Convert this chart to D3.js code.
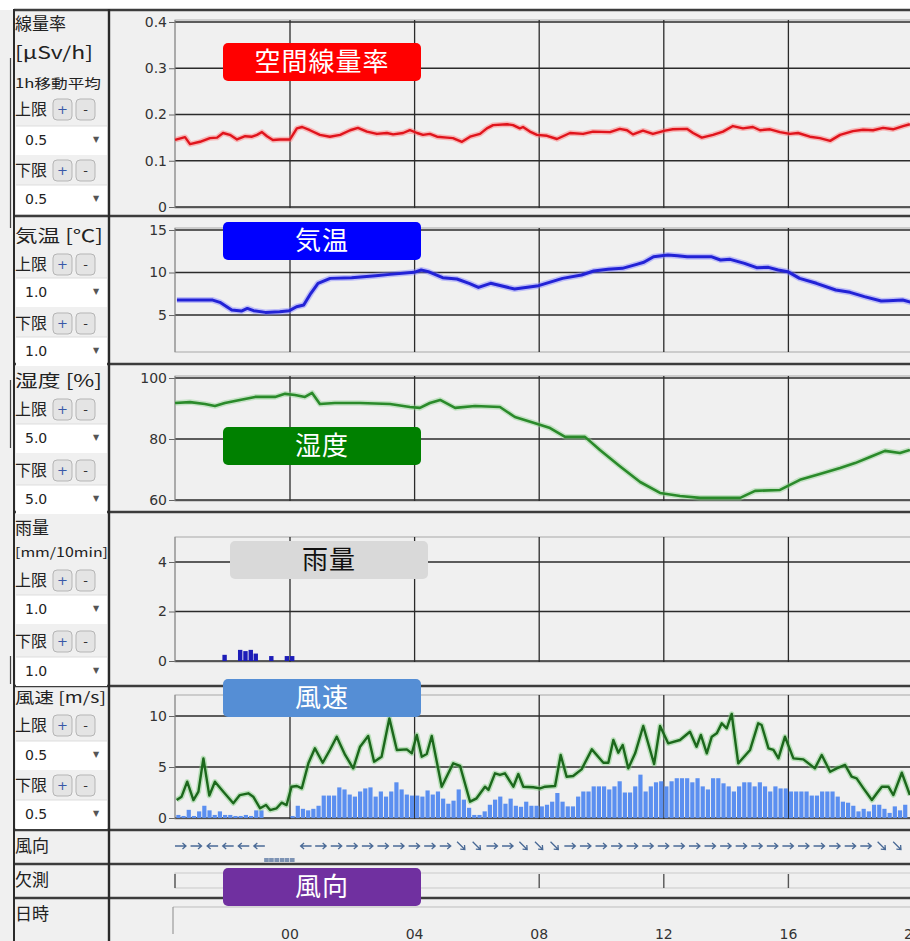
<!DOCTYPE html>
<html>
<head>
<meta charset="utf-8">
<script src="https://cdn.jsdelivr.net/npm/d3@7"></script>
<style>
  body { margin: 0; background: #fff; }
  svg text { font-family: "DejaVu Sans", sans-serif; }
  svg .jp { font-family: "Noto Sans CJK JP", sans-serif; }
</style>
</head>
<body>
<div id="chart"></div>
<script>
// hours from 00:00 (negative = previous evening)
var hourTicks = [0, 4, 8, 12, 16, 20];
var hourLabels = ["00", "04", "08", "12", "16", "20"];

// 空間線量率 [µSv/h] (1h moving average)
var doseRate = [[-3.69,.145],[-3.37,.151],[-3.21,.136],[-2.89,.141],[-2.57,.149],[-2.34,.150],[-2.15,.160],[-1.93,.156],
  [-1.70,.146],[-1.44,.153],[-1.22,.152],[-1.06,.156],[-0.90,.162],[-0.74,.153],[-0.55,.145],[-0.32,.146],
  [0,.146],[0.22,.170],[0.39,.173],[0.64,.166],[0.96,.156],[1.28,.152],[1.61,.156],[1.93,.166],[2.18,.171],[2.47,.163],
  [2.79,.158],[3.11,.160],[3.31,.157],[3.63,.160],[3.85,.166],[4.08,.160],[4.27,.156],[4.49,.158],[4.72,.152],[5.04,.150],
  [5.23,.149],[5.52,.141],[5.78,.152],[6.10,.158],[6.32,.170],[6.52,.177],[6.97,.179],[7.16,.177],[7.38,.170],[7.48,.173],
  [7.70,.163],[7.93,.156],[8.25,.154],[8.57,.147],[8.99,.160],[9.41,.158],[9.73,.163],[10.27,.162],[10.59,.169],[10.82,.166],
  [11.01,.157],[11.33,.165],[11.65,.158],[12.04,.165],[12.29,.168],[12.74,.169],[12.94,.160],[13.22,.150],[13.58,.156],
  [13.90,.163],[14.22,.175],[14.54,.170],[14.86,.173],[15.09,.166],[15.41,.168],[15.73,.162],[16.05,.158],[16.31,.160],
  [16.69,.152],[17.01,.149],[17.34,.143],[17.66,.156],[18.07,.164],[18.40,.167],[18.72,.166],[19.04,.171],[19.36,.168],
  [19.68,.175],[19.90,.179]];

// 気温 [℃]
var temperature = [[-3.63,6.76],[-2.48,6.76],[-2.25,6.49],[-1.87,5.59],[-1.56,5.47],[-1.37,5.78],[-1.17,5.51],[-0.79,5.31],
  [-0.33,5.39],[-0.02,5.51],[0.21,5.98],[0.44,6.18],[0.67,7.55],[0.90,8.73],[1.29,9.31],[1.98,9.39],[2.75,9.63],[3.21,9.78],
  [3.98,10.02],[4.21,10.29],[4.44,10.10],[4.90,9.39],[5.36,9.24],[5.75,8.73],[6.05,8.25],[6.44,8.73],[7.21,8.06],[7.98,8.45],
  [8.75,9.31],[9.36,9.71],[9.75,10.18],[10.21,10.37],[10.67,10.49],[11.13,10.96],[11.36,11.20],[11.67,11.86],[12.13,12.06],
  [12.44,11.98],[12.75,11.86],[13.52,11.86],[13.82,11.47],[14.13,11.55],[14.59,11.08],[14.98,10.57],[15.36,10.61],
  [15.67,10.29],[15.98,10.10],[16.36,9.31],[16.90,8.73],[17.52,7.94],[17.98,7.67],[18.44,7.16],[18.98,6.65],[19.21,6.69],
  [19.67,6.76],[19.94,6.49]];

// 湿度 [%]
var humidity = [[-3.69,91.8],[-3.21,92.1],[-2.73,91.5],[-2.41,90.8],[-2.09,91.8],[-1.61,92.8],[-1.12,93.8],[-0.48,93.8],
  [-0.16,94.8],[0.16,94.4],[0.48,93.8],[0.71,95.1],[0.96,91.5],[1.44,91.8],[2.25,91.8],[3.21,91.5],[3.85,90.5],[4.17,90.2],
  [4.49,91.8],[4.82,92.8],[5.30,90.2],[5.94,90.8],[6.74,90.5],[7.22,87.2],[7.87,85.2],[8.35,83.6],[8.83,80.7],[9.47,80.7],
  [9.95,76.4],[10.59,71.1],[11.24,65.9],[11.88,62.3],[12.52,61.3],[13.16,60.7],[13.96,60.7],[14.45,60.7],[14.93,63.0],
  [15.73,63.3],[16.37,66.6],[17.01,68.5],[17.66,70.5],[18.14,72.1],[18.62,74.1],[19.10,76.1],[19.58,75.4],[19.90,76.4]];

// 雨量 [mm/10min], slot start hour
var rainfall = [[-2.17,0.25],[-1.67,0.45],[-1.50,0.40],[-1.33,0.45],[-1.17,0.30],[-0.67,0.20],[-0.17,0.20],[0,0.20]];

// 風速 [m/s]: 10-min mean bars from 20:20, and max gust line
var windStart = -22 / 6;
var windMean = [0.3,0.2,0.8,0.2,0.65,1.2,0.75,0.3,0.65,0.3,0.3,0.2,0.2,0.3,0.2,0.75,0.75,0,0,0,0,0,0.2,1.2,0.9,0.75,0.9,1.2,
  2.2,2.2,2.2,3.0,2.8,2.3,2.1,2.6,2.9,3.0,2.1,2.6,2.1,2.6,3.5,2.8,2.3,2.2,2.2,2.1,2.7,2.3,2.6,1.9,1.4,1.7,2.8,1.8,1.0,0.3,
  0.3,0.65,1.3,1.8,2.1,1.4,1.9,1.2,1.1,1.6,1.2,1.2,
  1.14,1.3,1.6,2.45,1.6,1.14,1.14,2.1,2.6,2.6,3.1,3.1,3.1,2.8,3.1,3.6,2.5,2.5,3.1,4.25,2.6,3.1,3.5,3.6,3.1,3.6,3.9,3.9,
  3.9,3.5,3.9,3.1,2.8,3.9,3.9,3.4,3.1,2.6,3.1,3.5,3.5,3.1,3.5,3.1,2.6,3.1,2.9,2.9,2.6,2.6,2.6,2.6,2.2,2.2,2.6,2.6,2.6,2.1,
  1.6,1.5,1.2,0.65,0.9,0.65,1.3,1.3,0.9,0.5,1.14,0.75,1.3];
var windGust = [[-3.64,1.76],[-3.48,2.09],[-3.30,3.56],[-3.10,1.76],[-2.94,2.58],[-2.78,5.85],[-2.59,2.19],[-2.41,3.56],
  [-2.14,2.58],[-1.82,1.44],[-1.61,2.25],[-1.34,2.42],[-1.18,2.09],[-0.96,0.95],[-0.77,1.27],[-0.64,0.78],[-0.43,0.95],
  [-0.27,1.50],[-0.11,1.27],[0.05,3.07],[0.22,3.14],[0.38,2.91],[0.59,5.36],[0.80,6.83],[1.05,5.42],[1.28,6.67],[1.50,7.97],
  [1.77,6.18],[2.03,4.87],[2.25,6.99],[2.51,8.04],[2.70,5.52],[2.94,6.01],[3.19,9.77],[3.43,6.67],[3.75,6.73],[3.91,6.34],
  [4.07,8.14],[4.23,6.01],[4.39,6.27],[4.55,8.04],[4.87,3.07],[5.24,5.36],[5.46,5.10],[5.78,1.60],[5.99,1.93],[6.26,3.07],
  [6.37,2.75],[6.58,4.38],[6.74,4.22],[6.90,4.38],[7.17,3.07],[7.33,4.31],[7.49,3.07],[7.81,3.01],[8.03,2.91],[8.19,3.07],
  [8.51,3.14],[8.69,6.18],[8.88,4.05],[9.09,4.12],[9.36,4.77],[9.69,6.73],[10.06,5.42],[10.22,5.42],[10.38,7.65],[10.54,6.40],
  [10.68,7.16],[10.86,4.87],[11.08,6.34],[11.34,9.02],[11.69,5.29],[11.88,9.02],[12.14,7.32],[12.52,7.65],[12.84,8.46],
  [13.05,6.99],[13.19,8.14],[13.38,6.34],[13.54,7.97],[13.70,8.30],[13.86,9.28],[14.02,8.79],[14.18,10.20],[14.39,5.36],
  [14.77,6.67],[15.03,9.28],[15.14,9.12],[15.36,6.83],[15.52,6.67],[15.68,5.85],[15.89,7.97],[16.16,5.85],[16.48,5.75],
  [16.85,4.87],[17.07,6.18],[17.34,4.54],[17.55,4.87],[17.82,5.20],[18.03,4.05],[18.19,3.89],[18.41,2.91],[18.68,1.76],
  [18.84,2.42],[19.00,3.07],[19.21,3.07],[19.37,2.25],[19.64,4.44],[19.90,2.25]];

// 風向 (direction the wind comes from), every 30 min
var windDir = [[-3.5,"W"],[-3,"W"],[-2.5,"E"],[-2,"E"],[-1.5,"E"],[-1,"E"],
  [0.5,"E"],[1,"W"],[1.5,"W"],[2,"W"],[2.5,"W"],[3,"W"],[3.5,"W"],[4,"W"],[4.5,"W"],[5,"W"],[5.5,"NW"],[6,"NW"],
  [6.5,"W"],[7,"W"],[7.5,"NW"],[8,"NW"],[8.5,"NW"],[9,"W"],[9.5,"W"],[10,"W"],[10.5,"W"],[11,"W"],[11.5,"W"],
  [12,"W"],[12.5,"W"],[13,"W"],[13.5,"W"],[14,"W"],[14.5,"W"],[15,"W"],[15.5,"W"],[16,"W"],[16.5,"W"],[17,"W"],[17.5,"W"],
  [18,"W"],[18.5,"W"],[19,"NW"],[19.5,"NW"]];
var dirMissing = [-0.83, -0.67, -0.5, -0.33, -0.17, 0];

// badge labels
var badgeText = ["空間線量率", "気温", "湿度", "雨量", "風速", "風向"];
var badgeFill = ["#ff0000", "#0000ff", "#008000", "#d9d9d9", "#558ed5", "#7030a0"];
var badgeInk  = ["#fff", "#fff", "#fff", "#111", "#fff", "#fff"];

var W = 910, H = 941;
var svg = d3.select("#chart").append("svg").attr("width", W).attr("height", H);

svg.append("rect").attr("x", 0).attr("y", 10).attr("width", W).attr("height", H - 10).attr("fill", "#f0f0f0");

var x = d3.scaleLinear().domain([0, 20]).range([290, 913]);
var x0 = 175, x1 = 925;

// panel layout
var panels = [
  {top: 20,  bottom: 208, range: [207, 22],  domain: [0, 0.4],   ticks: [0, 0.1, 0.2, 0.3, 0.4], fmt: function(d) { return d === 0 ? "0" : d3.format(".1f")(d); }},
  {top: 228, bottom: 352, range: [352, 230], domain: [0.65, 15], ticks: [5, 10, 15], fmt: d3.format("d")},
  {top: 376, bottom: 501, range: [500, 378], domain: [60, 100],  ticks: [60, 80, 100], fmt: d3.format("d")},
  {top: 537, bottom: 662, range: [661, 537.25], domain: [0, 5], ticks: [0, 2, 4], fmt: d3.format("d")},
  {top: 695, bottom: 819, range: [818, 695], domain: [0, 12.06], ticks: [0, 5, 10], fmt: d3.format("d")}
];

panels.forEach(function(p) {
  p.y = d3.scaleLinear().domain(p.domain).range(p.range);
  var g = svg.append("g");
  g.append("rect").attr("x", x0).attr("y", p.top).attr("width", x1 - x0).attr("height", p.bottom - p.top)
    .attr("fill", "#f0f0f0").attr("stroke", "#a8a8a8");
  g.selectAll(".hg").data(p.ticks).enter().append("line")
    .attr("x1", x0).attr("x2", x1).attr("y1", p.y).attr("y2", p.y)
    .attr("stroke", "#2b2b2b").attr("stroke-width", 1.3);
  g.selectAll(".vg").data(hourTicks).enter().append("line")
    .attr("x1", x).attr("x2", x).attr("y1", p.top).attr("y2", p.bottom)
    .attr("stroke", "#2b2b2b").attr("stroke-width", 1.3);
  var ax = g.append("g").attr("transform", "translate(" + x0 + ",0)")
    .call(d3.axisLeft(p.y).tickValues(p.ticks).tickSize(6).tickPadding(2).tickFormat(p.fmt));
  ax.select(".domain").remove();
  ax.selectAll("line").attr("stroke", "#666");
  ax.selectAll("text").attr("fill", "#333").style("font-size", "14px").style("font-family", "DejaVu Sans");
  g.append("line").attr("x1", x0).attr("x2", x0).attr("y1", p.top).attr("y2", p.bottom).attr("stroke", "#888");
});

function drawLine(data, y, color, width, halo) {
  var line = d3.line().x(function(d) { return x(d[0]); }).y(function(d) { return y(d[1]); });
  if (halo) {
    svg.append("path").datum(data).attr("d", line).attr("fill", "none")
      .attr("stroke", halo).attr("stroke-width", width + 3).attr("stroke-opacity", 0.45).attr("stroke-linejoin", "round");
  }
  svg.append("path").datum(data).attr("d", line).attr("fill", "none")
    .attr("stroke", color).attr("stroke-width", width).attr("stroke-linejoin", "round");
}

drawLine(doseRate, panels[0].y, "#e0141c", 2.4, "#ff7070");
drawLine(temperature, panels[1].y, "#2222d6", 3, "#8080ff");
drawLine(humidity, panels[2].y, "#2a8a2a", 2.6, "#90d090");

// rain bars
var slot = 1 / 6;
svg.selectAll(".rain").data(rainfall).enter().append("rect")
  .attr("x", function(d) { return x(d[0]); })
  .attr("width", x(slot) - x(0) - 0.8)
  .attr("y", function(d) { return panels[3].y(d[1]); })
  .attr("height", function(d) { return panels[3].y(0) - panels[3].y(d[1]); })
  .attr("fill", "#1d1db8");

// wind mean bars then gust line
svg.selectAll(".wbar").data(windMean).enter().append("rect")
  .attr("x", function(d, i) { return x(windStart + i * slot) + 0.5; })
  .attr("width", x(slot) - x(0) - 1)
  .attr("y", function(d) { return panels[4].y(d); })
  .attr("height", function(d) { return panels[4].y(0) - panels[4].y(d); })
  .attr("fill", "#5b8ff0");
drawLine(windGust, panels[4].y, "#1c681c", 2.4, "#7acb7a");

// wind direction row
var dirAngle = {"W": 0, "NW": 45, "N": 90, "E": 180, "SW": -45};
svg.selectAll(".arrow").data(windDir).enter().append("path")
  .attr("transform", function(d) { return "translate(" + x(d[0]) + ",846) rotate(" + dirAngle[d[1]] + ")"; })
  .attr("d", "M-6,0 L5,0 M1.5,-3 L5,0 L1.5,3")
  .attr("fill", "none").attr("stroke", "#4a6a96").attr("stroke-width", 1.3);
svg.selectAll(".miss").data(dirMissing).enter().append("rect")
  .attr("x", function(d) { return x(d); }).attr("y", 858)
  .attr("width", x(slot) - x(0) - 0.6).attr("height", 4)
  .attr("fill", "#7d93b4");

// 欠測 row
svg.append("rect").attr("x", x0).attr("y", 873).attr("width", x1 - x0).attr("height", 15)
  .attr("fill", "none").attr("stroke", "#c9c9c9");
svg.selectAll(".mt").data([x0].concat(hourTicks.map(x))).enter().append("line")
  .attr("x1", function(d) { return d; }).attr("x2", function(d) { return d; })
  .attr("y1", 874).attr("y2", 888).attr("stroke", "#555").attr("stroke-width", 1.4);

// 日時 axis
svg.append("line").attr("x1", 173).attr("x2", x1).attr("y1", 907).attr("y2", 907).attr("stroke", "#bdbdbd");
svg.append("line").attr("x1", 173).attr("x2", 173).attr("y1", 907).attr("y2", 934).attr("stroke", "#8a8a8a");
svg.selectAll(".hl").data(hourTicks).enter().append("text")
  .attr("x", x).attr("y", 939).attr("text-anchor", "middle")
  .attr("fill", "#333").style("font-size", "14px")
  .text(function(d, i) { return hourLabels[i]; });

// row separators and frame
var seps = [10, 216, 364, 512, 686, 830, 864, 898];
svg.selectAll(".sep").data(seps).enter().append("line")
  .attr("x1", 14).attr("x2", W).attr("y1", function(d) { return d; }).attr("y2", function(d) { return d; })
  .attr("stroke", "#3c3c3c").attr("stroke-width", 2.6);
svg.append("line").attr("x1", 14).attr("x2", 14).attr("y1", 9).attr("y2", H).attr("stroke", "#2a2a2a").attr("stroke-width", 2);
svg.append("line").attr("x1", 109).attr("x2", 109).attr("y1", 9).attr("y2", H).attr("stroke", "#2a2a2a").attr("stroke-width", 2.4);
[[58, 228], [380, 448], [656, 684]].forEach(function(s) {
  svg.append("line").attr("x1", 10.5).attr("x2", 10.5).attr("y1", s[0]).attr("y2", s[1]).attr("stroke", "#444").attr("stroke-width", 1.2);
});

// left control column
function label(txt, y, size, width) {
  var t = svg.append("text").attr("class", "jp").attr("x", 15).attr("y", y).attr("dy", "0.36em")
    .attr("fill", "#222").style("font-size", size + "px").text(txt);
  if (width) t.attr("textLength", width).attr("lengthAdjust", "spacingAndGlyphs");
}
function limitRow(txt, y) {
  label(txt, y, 16);
  [["+", 53, "#3858a8"], ["-", 76, "#333"]].forEach(function(b) {
    svg.append("rect").attr("x", b[1]).attr("y", y - 10).attr("width", 19).attr("height", 21).attr("rx", 4)
      .attr("fill", "#e4e4e4").attr("stroke", "#b5b5b5");
    svg.append("text").attr("x", b[1] + 9.5).attr("y", y).attr("dy", "0.38em").attr("text-anchor", "middle")
      .attr("fill", b[2]).style("font-size", "13px").text(b[0]);
  });
}
function dropdown(val, y) {
  svg.append("rect").attr("x", 16).attr("y", y - 14).attr("width", 91).attr("height", 29).attr("fill", "#fff");
  svg.append("line").attr("x1", 16).attr("x2", 107).attr("y1", y - 14).attr("y2", y - 14).attr("stroke", "#ddd");
  svg.append("text").attr("x", 25).attr("y", y).attr("dy", "0.36em").attr("fill", "#222").style("font-size", "14px").text(val);
  svg.append("text").attr("x", 96).attr("y", y).attr("dy", "0.3em").attr("text-anchor", "middle")
    .attr("fill", "#555").style("font-size", "8px").text("▼");
}

label("線量率", 24, 17); label("[μSv/h]", 53, 17, 78); label("1h移動平均", 83, 13, 86);
limitRow("上限", 109); dropdown("0.5", 140); limitRow("下限", 170); dropdown("0.5", 199);
label("気温 [℃]", 236, 17, 88);
limitRow("上限", 264); dropdown("1.0", 292); limitRow("下限", 323); dropdown("1.0", 351);
label("湿度 [%]", 381, 17, 87);
limitRow("上限", 409); dropdown("5.0", 438); limitRow("下限", 470); dropdown("5.0", 499);
label("雨量", 528, 17); label("[mm/10min]", 552, 13, 93);
limitRow("上限", 580); dropdown("1.0", 609); limitRow("下限", 641); dropdown("1.0", 671);
label("風速 [m/s]", 698, 15, 91);
limitRow("上限", 725); dropdown("0.5", 755); limitRow("下限", 785); dropdown("0.5", 814);
label("風向", 846, 17); label("欠測", 880, 17); label("日時", 914, 17);

// badges
var badgeBox = [[223, 43], [223, 222], [223, 427], [230, 541], [223, 679], [223, 868]];
badgeText.forEach(function(t, i) {
  var b = badgeBox[i];
  svg.append("rect").attr("x", b[0]).attr("y", b[1]).attr("width", 198).attr("height", 38).attr("rx", 5)
    .attr("fill", badgeFill[i]);
  svg.append("text").attr("class", "jp").attr("x", b[0] + 99).attr("y", b[1] + 19).attr("dy", "0.36em")
    .attr("text-anchor", "middle").attr("fill", badgeInk[i]).style("font-size", "26px").style("letter-spacing", "1px")
    .text(t);
});
</script>
</body>
</html>
